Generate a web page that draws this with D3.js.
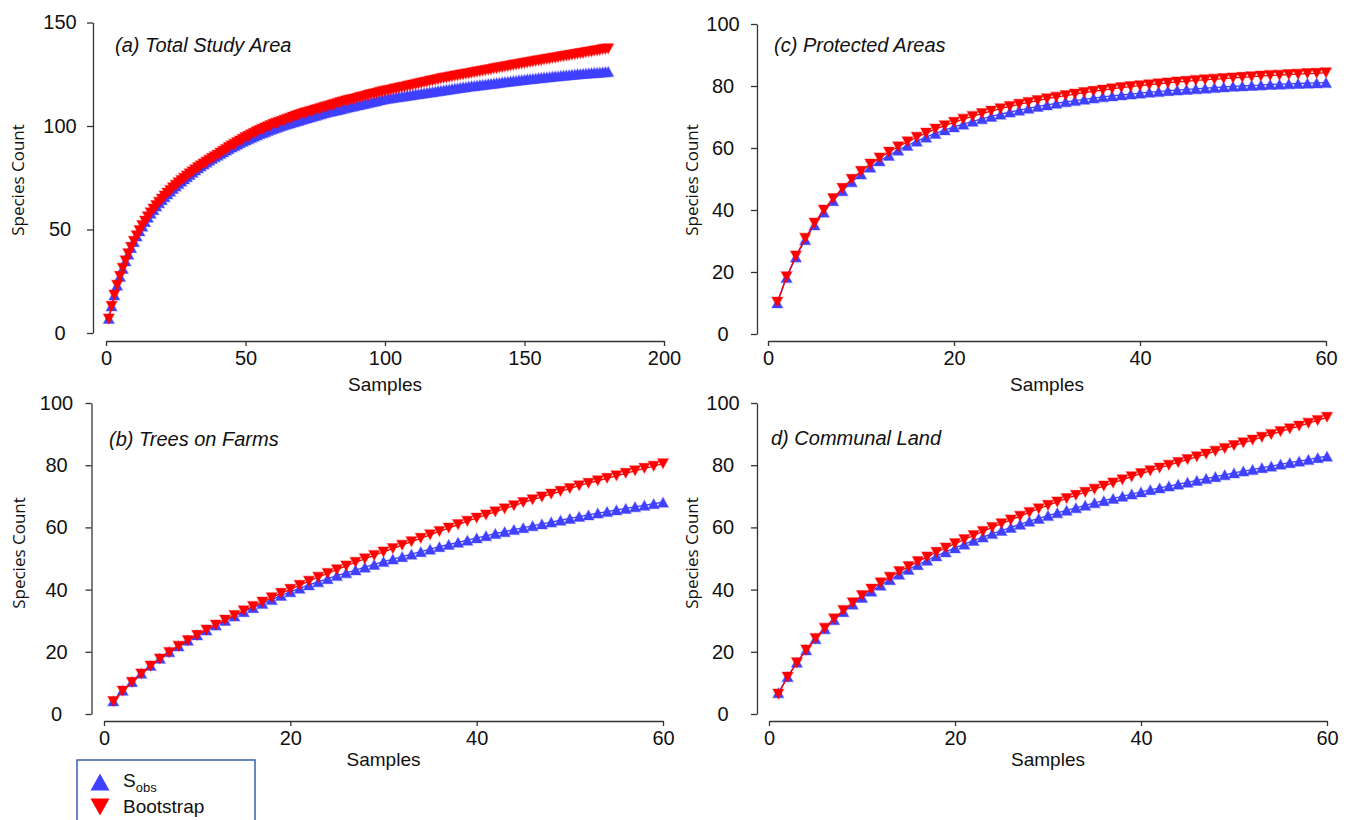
<!DOCTYPE html>
<html>
<head>
<meta charset="utf-8">
<script src="https://cdn.jsdelivr.net/npm/d3@7"></script>
<style>
  body { margin: 0; background: #fff; }
  svg text { font-family: "Liberation Sans", Arial, sans-serif; fill: #111; }
</style>
</head>
<body>
<div id="chart"></div>
<script>
// sample numbers
var samplesA = d3.range(1, 181);
var samples60 = d3.range(1, 61);

// (a) total study area
var sobsA = [7.0,13.1,18.4,23.1,27.3,31.2,34.8,38.1,41.2,44.1,
  46.8,49.3,51.6,53.8,55.9,57.8,59.6,61.3,62.9,64.4,
  65.8,67.2,68.5,69.8,71.0,72.2,73.3,74.4,75.5,76.6,
  77.7,78.7,79.7,80.7,81.6,82.5,83.4,84.3,85.1,85.9,
  86.7,87.5,88.3,89.0,89.8,90.5,91.2,91.9,92.6,93.2,
  93.8,94.4,95.0,95.6,96.2,96.7,97.2,97.8,98.3,98.8,
  99.3,99.8,100.3,100.7,101.1,101.5,101.9,102.3,102.7,103.1,
  103.5,103.9,104.3,104.7,105.1,105.5,105.9,106.3,106.7,107.0,
  107.3,107.6,107.9,108.2,108.6,108.9,109.2,109.5,109.8,110.1,
  110.4,110.7,111.0,111.3,111.6,111.9,112.2,112.6,112.9,113.2,
  113.4,113.6,113.8,114.0,114.2,114.4,114.6,114.8,115.0,115.2,
  115.4,115.6,115.8,116.0,116.2,116.4,116.6,116.8,117.0,117.2,
  117.4,117.6,117.8,118.0,118.2,118.4,118.6,118.8,119.0,119.2,
  119.4,119.5,119.7,119.9,120.0,120.2,120.4,120.5,120.7,120.9,
  121.0,121.2,121.4,121.5,121.7,121.9,122.0,122.2,122.4,122.5,
  122.7,122.8,123.0,123.1,123.3,123.4,123.5,123.7,123.8,124.0,
  124.1,124.2,124.4,124.5,124.6,124.8,124.9,125.0,125.2,125.3,
  125.4,125.5,125.6,125.7,125.8,125.9,126.0,126.1,126.2,126.3];
var bootA = [6.8,12.9,18.3,23.1,27.4,31.3,34.9,38.3,41.4,44.3,
  47.0,49.5,51.9,54.1,56.2,58.1,59.9,61.6,63.2,64.7,
  66.2,67.6,68.9,70.2,71.4,72.6,73.7,74.8,75.9,76.9,
  77.9,78.9,79.9,80.8,81.7,82.6,83.5,84.4,85.2,86.0,
  86.9,87.8,88.7,89.6,90.4,91.2,92.0,92.8,93.6,94.4,
  95.1,95.8,96.5,97.2,97.8,98.4,99.0,99.6,100.2,100.8,
  101.3,101.8,102.3,102.8,103.3,103.8,104.3,104.8,105.3,105.7,
  106.1,106.5,106.9,107.3,107.7,108.1,108.5,108.9,109.3,109.7,
  110.1,110.5,110.9,111.3,111.7,112.1,112.4,112.7,113.0,113.4,
  113.8,114.1,114.4,114.8,115.2,115.5,115.8,116.2,116.5,116.8,
  117.1,117.4,117.7,118.0,118.3,118.6,118.9,119.2,119.5,119.8,
  120.1,120.4,120.7,121.0,121.3,121.6,121.9,122.2,122.5,122.8,
  123.1,123.3,123.6,123.8,124.1,124.3,124.6,124.8,125.1,125.3,
  125.6,125.8,126.1,126.3,126.6,126.8,127.1,127.3,127.6,127.8,
  128.1,128.3,128.6,128.8,129.1,129.3,129.6,129.8,130.1,130.3,
  130.6,130.8,131.0,131.3,131.5,131.7,132.0,132.2,132.4,132.7,
  132.9,133.1,133.4,133.6,133.8,134.1,134.3,134.5,134.8,135.0,
  135.2,135.5,135.7,135.9,136.2,136.4,136.6,136.9,137.1,137.3];

// (b) trees on farms
var sobsB = [4.2,7.6,10.4,13.1,15.6,17.9,20.0,21.9,23.7,25.4,
  27.0,28.6,30.1,31.5,32.9,34.2,35.5,36.8,38.1,39.3,
  40.4,41.5,42.5,43.5,44.5,45.4,46.3,47.2,48.1,49.0,
  49.8,50.6,51.4,52.2,53.0,53.8,54.5,55.2,55.9,56.6,
  57.3,58.0,58.6,59.3,59.9,60.5,61.1,61.7,62.3,62.9,
  63.5,64.0,64.6,65.1,65.6,66.1,66.6,67.1,67.6,68.1];
var bootB = [4.0,7.4,10.2,12.9,15.4,17.7,19.8,21.8,23.6,25.3,
  27.0,28.6,30.2,31.7,33.2,34.6,36.0,37.4,38.8,40.1,
  41.4,42.7,44.0,45.2,46.4,47.6,48.8,49.9,51.0,52.1,
  53.2,54.3,55.4,56.5,57.6,58.7,59.8,60.9,62.0,63.0,
  64.0,65.0,66.0,67.0,68.0,68.9,69.8,70.7,71.6,72.5,
  73.4,74.2,75.0,75.8,76.6,77.4,78.2,79.0,79.7,80.5];

// (c) protected areas
var sobsC = [10.0,18.2,24.8,30.4,35.2,39.3,43.0,46.2,49.1,51.6,
  53.8,55.8,57.6,59.3,60.8,62.2,63.5,64.7,65.8,66.8,
  67.7,68.6,69.4,70.2,70.9,71.6,72.2,72.8,73.4,73.9,
  74.4,74.9,75.3,75.7,76.1,76.5,76.8,77.1,77.4,77.7,
  78.0,78.2,78.5,78.7,78.9,79.1,79.3,79.5,79.7,79.9,
  80.0,80.2,80.3,80.5,80.6,80.7,80.8,80.9,81.0,81.1];
var bootC = [10.3,18.5,25.2,30.9,35.8,40.0,43.7,47.0,49.9,52.5,
  54.8,56.8,58.7,60.4,62.0,63.5,64.8,66.1,67.2,68.3,
  69.3,70.2,71.1,71.9,72.7,73.4,74.1,74.7,75.3,75.9,
  76.4,76.9,77.4,77.9,78.3,78.7,79.1,79.5,79.8,80.1,
  80.4,80.7,81.0,81.3,81.5,81.8,82.0,82.2,82.4,82.6,
  82.8,83.0,83.2,83.4,83.5,83.7,83.8,84.0,84.1,84.3];

// (d) communal land
var sobsD = [6.8,12.0,16.6,20.6,24.2,27.4,30.3,32.9,35.3,37.5,
  39.5,41.4,43.2,44.9,46.5,48.0,49.4,50.8,52.1,53.4,
  54.6,55.8,56.9,58.0,59.0,60.0,61.0,62.0,62.9,63.8,
  64.7,65.5,66.3,67.1,67.9,68.6,69.3,70.0,70.7,71.4,
  72.1,72.7,73.3,73.9,74.5,75.1,75.7,76.3,76.9,77.5,
  78.1,78.6,79.2,79.7,80.3,80.8,81.3,81.8,82.4,82.9];
var bootD = [6.4,11.9,16.5,20.6,24.3,27.6,30.6,33.3,35.8,38.1,
  40.2,42.2,44.0,45.8,47.4,49.0,50.5,52.0,53.4,54.8,
  56.1,57.4,58.7,60.0,61.2,62.4,63.6,64.8,66.0,67.1,
  68.2,69.3,70.3,71.3,72.3,73.3,74.3,75.3,76.3,77.3,
  78.2,79.1,80.0,80.9,81.8,82.7,83.6,84.5,85.4,86.3,
  87.2,88.1,89.0,89.9,90.8,91.7,92.6,93.5,94.4,95.4];

var ticksX200 = [0, 50, 100, 150, 200];
var ticksX60 = [0, 20, 40, 60];
var ticksY150 = [0, 50, 100, 150];
var ticksY100 = [0, 20, 40, 60, 80, 100];

var blue = "#4040ff", red = "#ff0000";

var panels = [
  { title: "(a) Total Study Area", x: samplesA, sobs: sobsA, boot: bootA,
    xMax: 200, xTicks: ticksX200, yMax: 150, yTicks: ticksY150,
    left: 106, right: 664, bottom: 333, top: 22.5, yAxisX: 93, xAxisY: 341,
    titleX: 115, titleY: 52, labX: 18.5, labY: 180, lblOff: 33, sampY: 391 },
  { title: "(c) Protected Areas", x: samples60, sobs: sobsC, boot: bootC,
    xMax: 60, xTicks: ticksX60, yMax: 100, yTicks: ticksY100,
    left: 768, right: 1326, bottom: 334, top: 24, yAxisX: 757, xAxisY: 341,
    titleX: 774, titleY: 52, labX: 692.5, labY: 180, lblOff: 34, sampY: 391 },
  { title: "(b) Trees on Farms", x: samples60, sobs: sobsB, boot: bootB,
    xMax: 60, xTicks: ticksX60, yMax: 100, yTicks: ticksY100,
    left: 104, right: 663, bottom: 714, top: 403, yAxisX: 91.5, xAxisY: 721,
    titleX: 109, titleY: 446, labX: 19, labY: 553, lblOff: 35, sampY: 766 },
  { title: "d) Communal Land", x: samples60, sobs: sobsD, boot: bootD,
    xMax: 60, xTicks: ticksX60, yMax: 100, yTicks: ticksY100,
    left: 769, right: 1327, bottom: 714, top: 403, yAxisX: 757, xAxisY: 721,
    titleX: 771, titleY: 445, labX: 692.5, labY: 553, lblOff: 34, sampY: 766 }
];

var svg = d3.select("#chart").append("svg")
  .attr("width", 1349).attr("height", 820);

function triangle(up, w, h) {
  var hw = w / 2, hh = h / 2;
  return up
    ? "M0," + (-hh) + "L" + hw + "," + hh + "L" + (-hw) + "," + hh + "Z"
    : "M0," + hh + "L" + hw + "," + (-hh) + "L" + (-hw) + "," + (-hh) + "Z";
}

panels.forEach(function(p) {
  var xScale = d3.scaleLinear().domain([0, p.xMax]).range([p.left, p.right]);
  var yScale = d3.scaleLinear().domain([0, p.yMax]).range([p.bottom, p.top]);
  var g = svg.append("g");

  // y axis
  var yAxis = g.append("g")
    .attr("transform", "translate(" + p.yAxisX + ",0)")
    .call(d3.axisLeft(yScale).tickValues(p.yTicks).tickSize(6).tickSizeOuter(0));
  yAxis.select(".domain").attr("stroke", "#333").attr("stroke-width", 1.3);
  yAxis.selectAll(".tick line").attr("stroke", "#333").attr("stroke-width", 1.3);
  yAxis.selectAll(".tick text")
    .attr("x", -p.lblOff).attr("text-anchor", "middle")
    .style("font-size", "20px").style("font-family", "'Liberation Sans', Arial, sans-serif")
    .attr("fill", "#111");

  // x axis
  var xAxis = g.append("g")
    .attr("transform", "translate(0," + p.xAxisY + ")")
    .call(d3.axisBottom(xScale).tickValues(p.xTicks).tickSize(5).tickSizeOuter(0).tickPadding(5));
  xAxis.select(".domain").attr("stroke", "#333").attr("stroke-width", 1.5);
  xAxis.selectAll(".tick line").attr("stroke", "#333").attr("stroke-width", 1.3);
  xAxis.selectAll(".tick text")
    .style("font-size", "20px").style("font-family", "'Liberation Sans', Arial, sans-serif")
    .attr("fill", "#111");

  // axis titles
  g.append("text")
    .attr("transform", "translate(" + p.labX + "," + p.labY + ") rotate(-90)")
    .attr("text-anchor", "middle").attr("dy", "0.35em")
    .style("font-family", "'Open Sans', sans-serif").style("font-size", "17px")
    .text("Species Count");
  g.append("text")
    .attr("x", (p.left + p.right) / 2).attr("y", p.sampY)
    .attr("text-anchor", "middle").style("font-size", "19px")
    .text("Samples");

  // panel title
  g.append("text")
    .attr("x", p.titleX).attr("y", p.titleY)
    .style("font-size", "20px").style("font-style", "italic")
    .text(p.title);

  var sobsPts = p.x.map(function(d, i) { return [d, p.sobs[i]]; });
  var bootPts = p.x.map(function(d, i) { return [d, p.boot[i]]; });
  var line = d3.line()
    .x(function(d) { return xScale(d[0]); })
    .y(function(d) { return yScale(d[1]); });

  g.append("path").datum(sobsPts).attr("d", line)
    .attr("fill", "none").attr("stroke", blue).attr("stroke-width", 1.3);
  g.selectAll(".sobs").data(sobsPts).enter().append("path")
    .attr("class", "sobs")
    .attr("transform", function(d) { return "translate(" + xScale(d[0]) + "," + yScale(d[1]) + ")"; })
    .attr("d", triangle(true, 11, 10))
    .attr("fill", blue).attr("stroke", blue).attr("stroke-opacity", 0.35).attr("stroke-width", 1.2);

  g.append("path").datum(bootPts).attr("d", line)
    .attr("fill", "none").attr("stroke", red).attr("stroke-width", 1.3);
  g.selectAll(".boot").data(bootPts).enter().append("path")
    .attr("class", "boot")
    .attr("transform", function(d) { return "translate(" + xScale(d[0]) + "," + yScale(d[1]) + ")"; })
    .attr("d", triangle(false, 11, 10))
    .attr("fill", red).attr("stroke", red).attr("stroke-opacity", 0.35).attr("stroke-width", 1.2);
});

// legend
var legend = svg.append("g");
legend.append("rect")
  .attr("x", 77).attr("y", 760).attr("width", 178).attr("height", 80)
  .attr("fill", "#fff").attr("stroke", "#3a5fad").attr("stroke-width", 1.5);
legend.append("path")
  .attr("transform", "translate(100,782)")
  .attr("d", triangle(true, 19, 17)).attr("fill", blue);
legend.append("path")
  .attr("transform", "translate(100,807)")
  .attr("d", triangle(false, 19, 17)).attr("fill", red);
var sText = legend.append("text").attr("x", 123).attr("y", 787).style("font-size", "19px");
sText.append("tspan").text("S");
sText.append("tspan").attr("dy", 5).style("font-size", "13px").text("obs");
legend.append("text").attr("x", 123).attr("y", 813).style("font-size", "19px").text("Bootstrap");
</script>
</body>
</html>
